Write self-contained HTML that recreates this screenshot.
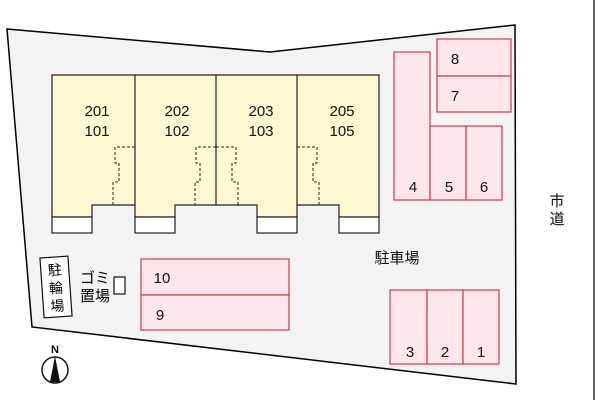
<!DOCTYPE html>
<html><head><meta charset="utf-8"><style>
body{margin:0;background:#fff;}
svg{display:block;font-family:"Liberation Sans","Noto Sans CJK JP",sans-serif;}
</style></head><body>
<svg width="600" height="400" viewBox="0 0 600 400">
<polygon points="7,29 270,52 515,25 516,384 32,327" fill="#f3f3f3" stroke="#000" stroke-width="1.5"/>
<line x1="594" y1="0" x2="594" y2="400" stroke="#000" stroke-width="1.2"/>
<g stroke="#222" stroke-width="1.2">
<path d="M52,75 H379 V217 H339 V205 H297 V217 H257 V205 H175 V217 H135 V205 H92 V217 H52 Z" fill="#fdf8d2"/>
<line x1="135" y1="75" x2="135" y2="205"/><line x1="216" y1="75" x2="216" y2="205"/><line x1="297" y1="75" x2="297" y2="205"/>
<rect x="52" y="217" width="40" height="16" fill="#fff"/>
<rect x="135" y="217" width="40" height="16" fill="#fff"/>
<rect x="257" y="217" width="40" height="16" fill="#fff"/>
<rect x="339" y="217" width="40" height="16" fill="#fff"/>
</g>
<g fill="none" stroke="#222" stroke-width="1" stroke-dasharray="3,2">
<path d="M135,147 H115 V163 H119 V182 H113 V205"/>
<path d="M216,147 H196 V163 H200 V182 H195 V205"/>
<path d="M216,147 H236 V163 H232 V182 H238 V205"/>
<path d="M297,147 H317 V163 H313 V182 H319 V205"/>
</g>
<g font-size="15" text-anchor="middle" fill="#111">
<text x="97" y="116">201</text><text x="97" y="136">101</text>
<text x="177" y="116">202</text><text x="177" y="136">102</text>
<text x="261" y="116">203</text><text x="261" y="136">103</text>
<text x="342" y="116">205</text><text x="342" y="136">105</text>
</g>
<g fill="#fde6ec" stroke="#d8364f" stroke-width="1.2">
<rect x="437" y="39" width="74" height="37"/><rect x="437" y="76" width="74" height="36"/>
<rect x="394" y="52" width="36" height="148"/>
<rect x="430" y="126" width="36" height="74"/><rect x="466" y="126" width="36" height="74"/>
<rect x="390" y="290" width="37" height="74"/><rect x="427" y="290" width="36" height="74"/><rect x="463" y="290" width="36" height="74"/>
<rect x="141" y="259" width="148" height="36"/><rect x="141" y="295" width="148" height="35"/>
</g>
<g font-size="15" fill="#111" text-anchor="middle">
<text x="455" y="64">8</text><text x="455" y="101">7</text>
<text x="413" y="192">4</text><text x="449" y="192">5</text><text x="484" y="192">6</text>
<text x="410" y="357">3</text><text x="445" y="357">2</text><text x="481" y="357">1</text>
<text x="162" y="283">10</text><text x="160" y="320">9</text>
<text x="397" y="263">駐車場</text>
<text x="557" y="206">市</text><text x="557" y="224">道</text>
</g>
<g transform="rotate(-4 56 287)">
<rect x="42" y="257" width="28" height="60" fill="#fff" stroke="#111" stroke-width="1.2"/>
<text x="56" y="275" font-size="14" text-anchor="middle">駐</text>
<text x="56" y="293" font-size="14" text-anchor="middle">輪</text>
<text x="56" y="311" font-size="14" text-anchor="middle">場</text>
</g>
<text x="80" y="283" font-size="15">ゴミ</text>
<text x="80" y="301" font-size="15">置場</text>
<rect x="114" y="277" width="11" height="17" fill="#fff" stroke="#111" stroke-width="1.2"/>
<text x="55" y="353" font-size="11" text-anchor="middle" font-weight="bold">N</text>
<circle cx="55" cy="370" r="13" fill="#fff" stroke="#111" stroke-width="1.5"/>
<polygon points="55,356 50,382 60,382" fill="#111"/>
</svg>
</body></html>
